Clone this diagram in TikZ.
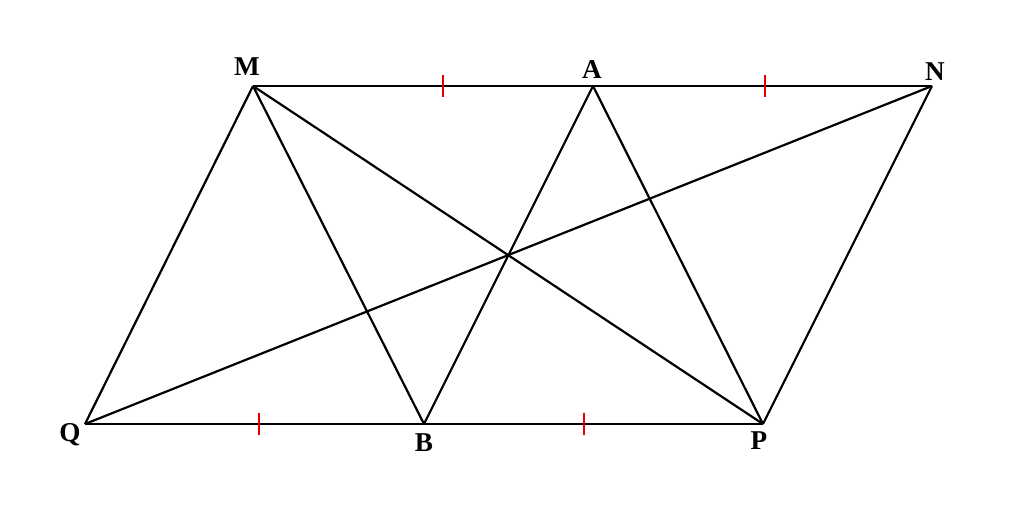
\documentclass[tikz,border=0pt]{standalone}
\usepackage{fontspec}
\setmainfont{Liberation Serif}
\usetikzlibrary{calc}
\begin{document}
\begin{tikzpicture}[x=0.5pt,y=-0.5pt]
            \tikzstyle{every node}+=[inner sep=0pt]
            \tikzstyle{edge}=[black, line width=1.1pt]
            \tikzstyle{tick}=[red!90!black, line width=1pt]
            \tikzstyle{lbl}=[font=\fontsize{13.6}{16}\selectfont\bfseries]
            \useasboundingbox (0,0) rectangle (1024,515);
            \coordinate (M) at (253,86);
            \coordinate (A) at (593,86);
            \coordinate (N) at (932,86);
            \coordinate (Q) at (85,424);
            \coordinate (B) at (424,424);
            \coordinate (P) at (763,424);
            \draw (247,67) node[lbl] (lM) {M};
            \draw (592,70) node[lbl] (lA) {A};
            \draw (935,72) node[lbl] (lN) {N};
            \draw (70,435) node[lbl] (lQ) {Q};
            \draw (424,443) node[lbl] (lB) {B};
            \draw (759,441) node[lbl] (lP) {P};
            \draw [edge] (M) -- (N);
            \draw [edge] (Q) -- (P);
            \draw [edge] (M) -- (Q);
            \draw [edge] (N) -- (P);
            \draw [edge] (M) -- (B);
            \draw [edge] (M) -- (P);
            \draw [edge] (A) -- (B);
            \draw [edge] (A) -- (P);
            \draw [edge] (Q) -- (N);
            \draw [tick] ($(M)!0.56!(A)+(0,-11)$) -- ++(0,22);
            \draw [tick] ($(A)!0.507!(N)+(0,-11)$) -- ++(0,22);
            \draw [tick] ($(Q)!0.513!(B)+(0,-11)$) -- ++(0,22);
            \draw [tick] ($(B)!0.472!(P)+(0,-11)$) -- ++(0,22);
        \end{tikzpicture}
\end{document}
